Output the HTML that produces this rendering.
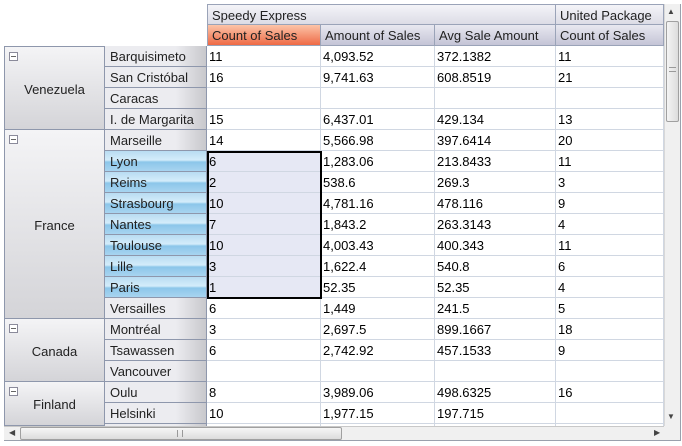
<!DOCTYPE html>
<html><head><meta charset="utf-8"><style>
*{box-sizing:border-box;margin:0;padding:0}
body{width:682px;height:446px;background:#fff;position:relative;overflow:hidden;font-family:"Liberation Sans",sans-serif;font-size:13px;color:#000}
.c{position:absolute;white-space:nowrap;overflow:hidden;line-height:21px}
.d{border-right:1px solid #d0d7e2;border-bottom:1px solid #d0d7e2;padding-left:2px;background:#fff}
.h1{background:linear-gradient(#f4f4f8,#dcdce6);border-right:1px solid #9aa3b8;border-bottom:1px solid #9aa3b8;padding-left:4px;color:#222}
.h2{background:linear-gradient(#e8e8f0,#c4c4d6);border-right:1px solid #9aa3b8;border-bottom:1px solid #9aa3b8;padding-left:4px;color:#222}
.city{background:linear-gradient(90deg,#ececf0 0%,#ececf0 70%,#c8c8cc 100%);border-right:1px solid #8e97ac;border-bottom:1px solid #8e97ac;padding-left:5px;color:#222}
.sel{background:linear-gradient(#b8dcf2,#d4ecfa 45%,#8cc6ea 55%,#a8d4f0)}
.cty{background:linear-gradient(#f4f4f6,#d4d4d8);border-right:1px solid #8e97ac;border-bottom:1px solid #8e97ac;color:#222}
.box{position:absolute;width:9px;height:9px;border:1px solid #8a8a9a;left:4px;top:5px;background:#fff}
.box:after{content:"";position:absolute;left:1px;top:3px;width:5px;height:1px;background:#666}
</style></head><body>
<div id="g"></div>
<script>
var g=document.getElementById('g'),h='';
function c(x,y,w,hh,cls,t,st){h+='<div class="c '+cls+'" style="left:'+x+'px;top:'+y+'px;width:'+w+'px;height:'+hh+'px;'+(st||'')+'">'+(t||'')+'</div>';}
c(207,4,349,21,'h1','Speedy Express','border-top:1px solid #9aa3b8;border-left:1px solid #9aa3b8');
c(556,4,108,21,'h1','United Package','border-top:1px solid #9aa3b8');
c(207,25,114,21,'h2','Count of Sales','background:linear-gradient(#fcc4a8,#ee6a46);border-left:1px solid #9aa3b8');
c(321,25,114,21,'h2','Amount of Sales');
c(435,25,121,21,'h2','Avg Sale Amount');
c(556,25,108,21,'h2','Count of Sales');
var rows=[['Barquisimeto','11','4,093.52','372.1382','11'],['San Cristóbal','16','9,741.63','608.8519','21'],['Caracas','','','',''],['I. de Margarita','15','6,437.01','429.134','13'],
['Marseille','14','5,566.98','397.6414','20'],['Lyon','6','1,283.06','213.8433','11'],['Reims','2','538.6','269.3','3'],['Strasbourg','10','4,781.16','478.116','9'],['Nantes','7','1,843.2','263.3143','4'],['Toulouse','10','4,003.43','400.343','11'],['Lille','3','1,622.4','540.8','6'],['Paris','1','52.35','52.35','4'],['Versailles','6','1,449','241.5','5'],
['Montréal','3','2,697.5','899.1667','18'],['Tsawassen','6','2,742.92','457.1533','9'],['Vancouver','','','',''],['Oulu','8','3,989.06','498.6325','16'],['Helsinki','10','1,977.15','197.715',''],['','','','','']];
var xs=[207,321,435,556],ws=[114,114,121,108];
rows.forEach(function(r,i){var y=46+21*i;var s=i>=5&&i<=11;var hh=i==18?3:21;
 c(105,y,102,hh,'city'+(s?' sel':''),r[0]);
 for(var k=0;k<4;k++)c(xs[k],y,ws[k],hh,'d',r[k+1],s&&k==0?'background:#e6e8f4':'');
});
function cty(n,y0,y1){c(4,y0,101,y1-y0,'cty','<span class="box"></span><span style="position:absolute;left:0;width:100%;text-align:center;top:'+((y1-y0)/2-10)+'px">'+n+'</span>','border-left:1px solid #8e97ac'+(y0==46?';border-top:1px solid #8e97ac':''));}
cty('Venezuela',46,130);cty('France',130,319);cty('Canada',319,382);cty('Finland',382,426);
h+='<div style="position:absolute;left:207px;top:151px;width:115px;height:148px;border:2px solid #000"></div>';
h+='<div style="position:absolute;left:664px;top:4px;width:17px;height:422px;background:#f0f0f0;border-left:1px solid #d8d8d8"></div>';
h+='<div style="position:absolute;left:667px;top:7px;color:#444;font-size:8px">▲</div>';
h+='<div style="position:absolute;left:666px;top:21px;width:13px;height:101px;background:linear-gradient(90deg,#f4f4f4,#dcdcdc);border:1px solid #a0a0a0;border-radius:2px"></div>';
h+='<div style="position:absolute;left:669px;top:67px;width:7px;height:5px;border-top:1px solid #999;border-bottom:1px solid #999"></div>';
h+='<div style="position:absolute;left:667px;top:412px;color:#444;font-size:8px">▼</div>';
h+='<div style="position:absolute;left:4px;top:426px;width:677px;height:15px;background:#f0f0f0;border-top:1px solid #c8c8c8;border-bottom:1px solid #c8c8c8"></div>';
h+='<div style="position:absolute;left:9px;top:428px;color:#444;font-size:8px">◀</div>';
h+='<div style="position:absolute;left:20px;top:427px;width:322px;height:13px;background:linear-gradient(#f6f6f6,#dcdcdc);border:1px solid #a0a0a0;border-radius:2px"></div>';
h+='<div style="position:absolute;left:177px;top:430px;width:6px;height:7px;border-left:1px solid #999;border-right:1px solid #999"></div>';
h+='<div style="position:absolute;left:654px;top:428px;color:#444;font-size:8px">▶</div>';
h+='<div style="position:absolute;left:664px;top:426px;width:17px;height:15px;background:#f0f0f0"></div>';
h+='<div style="position:absolute;left:0;top:441px;width:682px;height:5px;background:#fff"></div>';
h+='<div style="position:absolute;left:4px;top:4px;width:677px;height:437px;border:1px solid #9aa0ac;border-top:none;border-left:none;pointer-events:none"></div>';
g.innerHTML=h;
</script>
</body></html>
